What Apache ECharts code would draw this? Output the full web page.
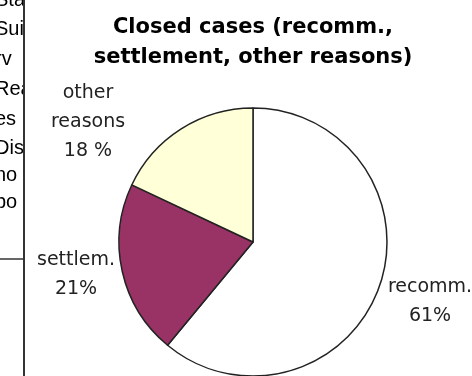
<!DOCTYPE html>
<html>
<head>
<meta charset="utf-8">
<script src="https://cdn.jsdelivr.net/npm/echarts@6/dist/echarts.min.js"></script>
<style>
  html, body { margin: 0; padding: 0; background: #fff; }
  #pie1 { width: 472px; height: 376px; }
</style>
</head>
<body>
<div id="pie1"></div>
<script>
// slices, clockwise from 12 o'clock
var categories = ['recomm.', 'settlem.', 'other\nreasons'];
var values = [61, 21, 18];
var colors = ['#ffffff', '#993366', '#ffffd8'];

// cut-off text of the page on the left
var sideText = ['Sta', 'Sui', 'rv', 'Rea', 'es', 'Dis', 'no', 'bo'];
var sideBase = [8, 37, 67, 97, 127, 156, 183, 210];

var myChart1 = echarts.init(document.getElementById('pie1'));

var pieData = [];
for (var i = 0; i < values.length; i++) {
    pieData.push({ name: categories[i], value: values[i], itemStyle: { color: colors[i] } });
}

// where the labels sit (centre of each text block)
var labelPos = [[430, 302], [76, 275], [88, 122]];

var graphics = [];
for (var j = 0; j < sideText.length; j++) {
    graphics.push({
        type: 'text', left: -5, top: sideBase[j] - 18, z: 1,
        style: { text: sideText[j], fill: '#000', font: '20px "Liberation Sans", Arial, sans-serif' }
    });
}
// hide what sticks out beyond the frame line
graphics.push({ type: 'rect', shape: { x: 24, y: 0, width: 16, height: 250 }, style: { fill: '#fff' }, z: 2 });
graphics.push({ type: 'line', shape: { x1: 24, y1: 0, x2: 24, y2: 376 }, style: { stroke: '#333', lineWidth: 2 }, z: 3 });
graphics.push({ type: 'line', shape: { x1: 0, y1: 259, x2: 24, y2: 259 }, style: { stroke: '#333', lineWidth: 1.5 }, z: 3 });

option1 = {
    animation: false,
    title: {
        text: 'Closed cases (recomm.,\nsettlement, other reasons)',
        left: 253,
        top: 13,
        textAlign: 'center',
        padding: 0,
        textStyle: {
            fontFamily: '"DejaVu Sans", sans-serif',
            fontWeight: 'bold',
            fontSize: 21,
            lineHeight: 30,
            color: '#000'
        }
    },
    graphic: graphics,
    series: [
        {
            type: 'pie',
            center: [253, 242],
            radius: 134,
            startAngle: 90,
            clockwise: true,
            silent: true,
            avoidLabelOverlap: false,
            itemStyle: { borderColor: '#222', borderWidth: 1.5 },
            label: {
                show: true,
                position: 'outside',
                overflow: 'none',
                bleedMargin: 0,
                formatter: function (p) {
                    return p.name + '\n' + p.value + (p.dataIndex === 2 ? ' %' : '%');
                },
                fontFamily: '"DejaVu Sans", sans-serif',
                fontSize: 19,
                lineHeight: 29,
                color: '#222',
                align: 'center'
            },
            labelLine: { show: false },
            labelLayout: function (params) {
                var p = labelPos[params.dataIndex];
                return { x: p[0], y: p[1], align: 'center', verticalAlign: 'middle' };
            },
            data: pieData
        }
    ]
};

if (option1 && typeof option1 === "object") {
    myChart1.setOption(option1, true);
}
</script>
</body>
</html>
